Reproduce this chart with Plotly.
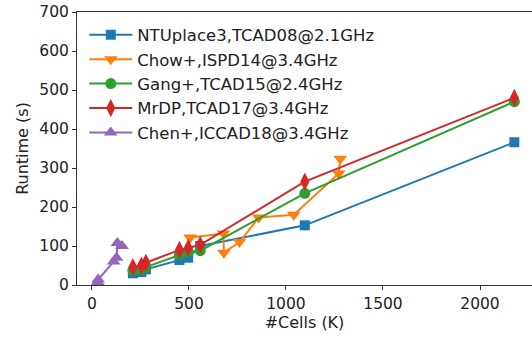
import plotly.graph_objects as go

# Data
ntu_x = [211, 255, 278, 451, 496, 558, 1097, 2177]
ntu_y = [30, 33, 40, 64, 70, 100, 153, 366]

chow_x = [506, 678, 680, 760, 860, 1040, 1272, 1280]
chow_y = [122, 132, 83, 110, 173, 180, 286, 324]

gang_x = [211, 255, 278, 451, 496, 558, 1097, 2177]
gang_y = [37, 40, 46, 78, 85, 88, 235, 470]

mrdp_x = [211, 255, 278, 451, 496, 558, 1097, 2177]
mrdp_y = [46, 50, 57, 90, 95, 103, 265, 480]

chen_x = [30, 32, 112, 127, 131, 155]
chen_y = [8, 14, 60, 70, 108, 100]

names = ["NTUplace3,TCAD08@2.1GHz", "Chow+,ISPD14@3.4GHz", "Gang+,TCAD15@2.4GHz",
         "MrDP,TCAD17@3.4GHz", "Chen+,ICCAD18@3.4GHz"]
colors = ["#1f77b4", "#ff7f0e", "#2ca02c", "#d62728", "#9467bd"]
symbols = ["square", "triangle-down", "circle", "diamond-tall", "triangle-up"]
sizes = [10, 12, 11, 13, 12]
series = [(ntu_x, ntu_y), (chow_x, chow_y), (gang_x, gang_y), (mrdp_x, mrdp_y), (chen_x, chen_y)]

fig = go.Figure()
for (x, y), n, c, s, sz in zip(series, names, colors, symbols, sizes):
    fig.add_trace(go.Scatter(x=x, y=y, name=n, mode="lines+markers",
                             line=dict(color=c, width=2),
                             marker=dict(color=c, symbol=s, size=sz)))

axis_common = dict(showgrid=False, zeroline=False, showline=True, linecolor="#333",
                   linewidth=1, ticks="outside", ticklen=4, tickcolor="#333",
                   tickfont=dict(size=15.5, color="#222"))

fig.update_layout(
    width=532, height=339,
    margin=dict(l=77, r=0, t=12, b=54),
    paper_bgcolor="white", plot_bgcolor="white",
    font=dict(family="DejaVu Sans", size=16, color="#222"),
    xaxis=dict(range=[-77, 2268], tickvals=[0, 500, 1000, 1500, 2000], mirror=True,
               title=dict(text="#Cells (K)", font=dict(size=16), standoff=2), **axis_common),
    yaxis=dict(range=[0, 700], tickvals=[0, 100, 200, 300, 400, 500, 600, 700],
               title=dict(text="Runtime (s)", font=dict(size=16), standoff=6), **axis_common),
    legend=dict(x=0.016, y=0.98, xanchor="left", yanchor="top", bgcolor="rgba(0,0,0,0)",
                font=dict(size=16.5), tracegroupgap=0, itemwidth=43),
    showlegend=True,
)

fig.write_html("out.html", config={"displayModeBar": False},
               post_script="document.body.style.margin='0';")
